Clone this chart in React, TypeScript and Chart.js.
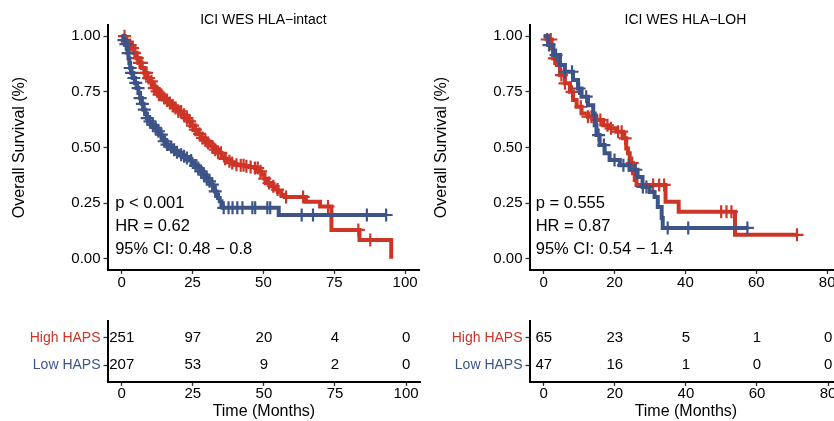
import React, { useEffect, useRef } from "react";
import { Chart, registerables } from "chart.js";

Chart.register(...registerables);

const FONT = '"Liberation Sans", Arial, Helvetica, sans-serif';
const RED = "#CD3527";
const BLUE = "#3C5488";

const groupLabels = ["High HAPS", "Low HAPS"];
const groupColors = [RED, BLUE];
const survTicks = [0, 0.25, 0.5, 0.75, 1];

// ---------- Panel 1: ICI WES HLA-intact ----------
const intactTitle = "ICI WES HLA\u2212intact";
const intactTimeTicks = [0, 25, 50, 75, 100];
const intactHighTime = [0, 1.2, 2.4, 3.6, 4.5, 5.3, 6.2, 7.1, 8.0, 8.9, 9.8, 10.6, 11.5, 12.4, 13.2, 14.1, 15.3, 16.5, 17.6, 18.8, 20.0, 21.2, 22.3, 23.5, 24.6, 25.8, 27.0, 28.2, 29.3, 30.5, 31.7, 32.9, 34.0, 35.2, 36.4, 37.6, 38.7, 39.9, 41.6, 43.4, 45.2, 47.0, 48.1, 49.3, 50.4, 51.6, 52.8, 54.0, 55.1, 56.3, 57.5, 65.0, 70.0, 74.0, 83.9, 95.1];
const intactHighSurv = [1, 0.975, 0.96, 0.946, 0.925, 0.901, 0.88, 0.857, 0.835, 0.812, 0.797, 0.782, 0.767, 0.752, 0.737, 0.722, 0.711, 0.7, 0.689, 0.677, 0.662, 0.647, 0.632, 0.617, 0.598, 0.58, 0.561, 0.543, 0.531, 0.52, 0.505, 0.49, 0.476, 0.461, 0.449, 0.438, 0.43, 0.423, 0.42, 0.416, 0.412, 0.408, 0.393, 0.378, 0.36, 0.341, 0.326, 0.311, 0.3, 0.288, 0.278, 0.256, 0.235, 0.13, 0.085, 0.0];
const intactHighCensor = [1, 2, 3, 3.8, 4.5, 5.5, 6.3, 7, 8, 8.8, 9.5, 10.5, 11.5, 12.5, 13.2, 14, 15, 16, 17, 18, 19, 20, 21, 22, 23, 24, 25, 26, 27.5, 28.5, 29.5, 30.5, 32, 33, 34, 35, 36.5, 38, 39, 40.5, 42, 43, 44, 45.5, 47, 48, 49, 50.5, 52, 53.5, 55, 58, 64, 72.8, 83.5, 87.7];
const intactLowTime = [0, 0.6, 1.2, 1.8, 2.1, 2.4, 2.7, 3.0, 3.5, 4.1, 4.7, 5.3, 5.9, 6.5, 7.1, 7.7, 8.3, 8.9, 9.7, 10.6, 11.5, 12.4, 13.2, 14.1, 15.0, 15.9, 16.8, 17.7, 18.8, 20.0, 21.1, 22.3, 23.5, 24.7, 25.8, 27.0, 27.9, 28.8, 29.6, 30.5, 31.4, 32.3, 32.9, 33.5, 34.0, 34.6, 35.2, 35.6, 55.4, 93.5];
const intactLowSurv = [1, 0.982, 0.964, 0.946, 0.924, 0.901, 0.879, 0.857, 0.835, 0.812, 0.79, 0.767, 0.745, 0.722, 0.696, 0.67, 0.651, 0.632, 0.617, 0.602, 0.588, 0.573, 0.558, 0.543, 0.528, 0.513, 0.502, 0.49, 0.479, 0.468, 0.461, 0.453, 0.442, 0.43, 0.419, 0.408, 0.393, 0.378, 0.363, 0.348, 0.333, 0.318, 0.303, 0.288, 0.273, 0.259, 0.236, 0.229, 0.197, 0.197];
const intactLowCensor = [0.8, 1.5, 2.3, 3, 3.5, 4.3, 5, 5.8, 6.5, 7.3, 8, 9, 10, 11, 12, 13, 14, 15, 16, 17.5, 18.5, 19.5, 21, 22, 23, 24.5, 26, 27, 28, 29, 30, 31, 32, 33, 36, 37.7, 39.1, 40.8, 42.6, 46.1, 47.1, 51.4, 52.4, 63.5, 67.5, 86.5, 93.3];
const intactStats = ["p < 0.001", "HR = 0.62", "95% CI: 0.48 \u2212 0.8"];
const intactRiskHigh = [251, 97, 20, 4, 0];
const intactRiskLow = [207, 53, 9, 2, 0];

// ---------- Panel 2: ICI WES HLA-LOH ----------
const lohTitle = "ICI WES HLA\u2212LOH";
const lohTimeTicks = [0, 20, 40, 60, 80];
const lohHighTime = [0, 1.0, 2.25, 2.7, 3.7, 4.6, 6.0, 7.4, 8.3, 9.3, 10.7, 12.5, 14.9, 16.8, 18.6, 20.5, 22.4, 23.3, 23.8, 24.3, 25.2, 25.7, 26.2, 34.4, 38.1, 54.0, 71.5];
const lohHighSurv = [1, 0.985, 0.945, 0.9, 0.87, 0.825, 0.788, 0.75, 0.713, 0.683, 0.653, 0.638, 0.623, 0.6, 0.586, 0.571, 0.541, 0.496, 0.474, 0.43, 0.384, 0.354, 0.332, 0.256, 0.212, 0.108, 0.108];
const lohHighCensor = [1, 2, 3, 5, 6, 8, 10.5, 12.5, 13.5, 15, 16, 18, 19, 21, 22, 23, 25, 30.9, 32.6, 34, 50.1, 51.6, 53, 71.5];
const lohLowTime = [0, 1.3, 2.7, 4.6, 6.0, 8.3, 9.7, 10.7, 12.5, 14.0, 14.4, 14.9, 15.8, 17.2, 18.6, 21.5, 24.3, 26.5, 27.9, 29.9, 31.3, 32.2, 33.3, 33.6, 57.8];
const lohLowSurv = [1, 0.96, 0.915, 0.87, 0.84, 0.803, 0.765, 0.728, 0.69, 0.653, 0.6, 0.556, 0.511, 0.474, 0.444, 0.42, 0.4, 0.368, 0.323, 0.3, 0.278, 0.233, 0.184, 0.139, 0.139];
const lohLowCensor = [1.5, 3.5, 6, 8, 10, 12, 15.5, 17, 20, 22.5, 24, 26, 28, 29, 35, 40.8, 57.5];
const lohStats = ["p = 0.555", "HR = 0.87", "95% CI: 0.54 \u2212 1.4"];
const lohRiskHigh = [65, 23, 5, 1, 0];
const lohRiskLow = [47, 16, 1, 0, 0];

const statRows = [0.25, 0.147, 0.044];

type Panel = {
  title: string;
  xMin: number;
  xMax: number;
  ticks: number[];
  highTime: number[];
  highSurv: number[];
  highCensor: number[];
  lowTime: number[];
  lowSurv: number[];
  lowCensor: number[];
  stats: string[];
  statX: number;
  riskHigh: number[];
  riskLow: number[];
};

const panels: Panel[] = [
  {
    title: intactTitle, xMin: -5, xMax: 105, ticks: intactTimeTicks,
    highTime: intactHighTime, highSurv: intactHighSurv, highCensor: intactHighCensor,
    lowTime: intactLowTime, lowSurv: intactLowSurv, lowCensor: intactLowCensor,
    stats: intactStats, statX: -2.3, riskHigh: intactRiskHigh, riskLow: intactRiskLow,
  },
  {
    title: lohTitle, xMin: -4, xMax: 84, ticks: lohTimeTicks,
    highTime: lohHighTime, highSurv: lohHighSurv, highCensor: lohHighCensor,
    lowTime: lohLowTime, lowSurv: lohLowSurv, lowCensor: lohLowCensor,
    stats: lohStats, statX: -2.25, riskHigh: lohRiskHigh, riskLow: lohRiskLow,
  },
];

function survAt(times: number[], surv: number[], t: number) {
  let s = surv[0];
  for (let i = 0; i < times.length; i++) {
    if (times[i] <= t) s = surv[i];
    else break;
  }
  return s;
}

const axisBorder = { display: true, color: "#000", width: 2 };
const axisGrid = { display: true, drawOnChartArea: false, drawTicks: true, tickLength: 4, tickColor: "#333", tickWidth: 1.3 };

function kmConfig(p: Panel): any {
  const curve = (time: number[], surv: number[]) => time.map((t, i) => ({ x: t, y: surv[i] }));
  const cens = (time: number[], surv: number[], c: number[]) => c.map((t) => ({ x: t, y: survAt(time, surv, t) }));
  const lineDs = (data: any[], color: string, order: number) => ({
    data, borderColor: color, borderWidth: 4, stepped: "before", pointRadius: 0, fill: false, order,
  });
  const censDs = (data: any[], color: string, order: number) => ({
    data, showLine: false, pointStyle: "cross", pointRadius: 6.5, pointBorderWidth: 2.2,
    pointBorderColor: color, borderColor: color, backgroundColor: color, order,
  });
  const statsPlugin = {
    id: "stats",
    afterDatasetsDraw(chart: any) {
      const { ctx, scales } = chart;
      ctx.save();
      ctx.font = `16.5px ${FONT}`;
      ctx.fillStyle = "#000";
      ctx.textAlign = "left";
      ctx.textBaseline = "middle";
      p.stats.forEach((s, i) => {
        ctx.fillText(s, scales.x.getPixelForValue(p.statX), scales.y.getPixelForValue(statRows[i]));
      });
      ctx.restore();
    },
  };
  return {
    type: "line",
    data: {
      datasets: [
        lineDs(curve(p.highTime, p.highSurv), RED, 4),
        censDs(cens(p.highTime, p.highSurv, p.highCensor), RED, 3),
        lineDs(curve(p.lowTime, p.lowSurv), BLUE, 2),
        censDs(cens(p.lowTime, p.lowSurv, p.lowCensor), BLUE, 1),
      ],
    },
    options: {
      animation: false,
      responsive: false,
      devicePixelRatio: 1,
      layout: { padding: { left: 0, right: 0, top: 0, bottom: 0.5 } },
      plugins: {
        legend: { display: false },
        tooltip: { enabled: false },
        title: {
          display: true, text: p.title, fullSize: false, color: "#000",
          font: { family: FONT, size: 14, weight: "normal", lineHeight: 0.7 },
          padding: { top: 15.1, bottom: 0.1 },
        },
      },
      scales: {
        x: {
          type: "linear", min: p.xMin, max: p.xMax,
          afterBuildTicks: (s: any) => { s.ticks = p.ticks.map((v) => ({ value: v })); },
          afterFit: (s: any) => { s.height = 20.5; },
          border: axisBorder, grid: axisGrid,
          ticks: { color: "#000", font: { family: FONT, size: 15, lineHeight: 1 }, padding: 1, maxRotation: 0, autoSkip: false },
        },
        y: {
          type: "linear", min: -0.05, max: 1.05,
          afterBuildTicks: (s: any) => { s.ticks = survTicks.map((v) => ({ value: v })); },
          afterFit: (s: any) => { s.width = 107.5; },
          border: axisBorder, grid: axisGrid,
          ticks: { color: "#000", font: { family: FONT, size: 15, lineHeight: 1 }, padding: 3, callback: (v: any) => Number(v).toFixed(2) },
          title: { display: true, text: "Overall Survival (%)", color: "#000", font: { family: FONT, size: 16, lineHeight: 1.2 }, padding: { top: 10.4, bottom: 0 } },
        },
      },
    },
    plugins: [statsPlugin],
  };
}

function riskConfig(p: Panel): any {
  const rows = [p.riskHigh, p.riskLow];
  const riskPlugin = {
    id: "riskNumbers",
    afterDatasetsDraw(chart: any) {
      const { ctx } = chart;
      ctx.save();
      ctx.font = `15px ${FONT}`;
      ctx.fillStyle = "#000";
      ctx.textAlign = "center";
      ctx.textBaseline = "middle";
      rows.forEach((counts, di) => {
        const meta = chart.getDatasetMeta(di);
        meta.data.forEach((el: any, i: number) => {
          ctx.fillText(String(counts[i]), el.x, el.y);
        });
      });
      ctx.restore();
    },
  };
  return {
    type: "scatter",
    data: {
      datasets: rows.map((counts, r) => ({
        data: counts.map((_, i) => ({ x: p.ticks[i], y: r })),
        pointRadius: 0,
      })),
    },
    options: {
      animation: false,
      responsive: false,
      devicePixelRatio: 1,
      layout: { padding: { left: 0, right: 3.7, top: 21, bottom: 0 } },
      plugins: { legend: { display: false }, tooltip: { enabled: false } },
      scales: {
        x: {
          type: "linear", min: p.xMin, max: p.xMax,
          afterBuildTicks: (s: any) => { s.ticks = p.ticks.map((v) => ({ value: v })); },
          afterFit: (s: any) => { s.height = 39; },
          border: axisBorder, grid: axisGrid,
          ticks: { color: "#000", font: { family: FONT, size: 15, lineHeight: 1 }, padding: 0.5, maxRotation: 0, autoSkip: false },
          title: { display: true, text: "Time (Months)", color: "#000", font: { family: FONT, size: 16, lineHeight: 1 }, padding: { top: 0, bottom: 1.3 } },
        },
        y: {
          type: "linear", reverse: true, min: -0.61, max: 1.62,
          afterBuildTicks: (s: any) => { s.ticks = groupLabels.map((_, i) => ({ value: i })); },
          afterFit: (s: any) => { s.width = 107.5; },
          border: axisBorder, grid: axisGrid,
          ticks: {
            font: { family: FONT, size: 14, lineHeight: 1 }, padding: 3,
            color: (c: any) => groupColors[c.index] || "#000",
            callback: (v: any) => groupLabels[Math.round(Number(v))] ?? "",
          },
        },
      },
    },
    plugins: [riskPlugin],
  };
}

function ChartBox(props: { left: number; top: number; width: number; height: number; make: () => any }) {
  const ref = useRef<HTMLCanvasElement | null>(null);
  useEffect(() => {
    if (!ref.current) return;
    const chart = new Chart(ref.current, props.make());
    return () => chart.destroy();
  }, []);
  return (
    <canvas
      ref={ref}
      width={props.width}
      height={props.height}
      style={{ position: "absolute", left: props.left, top: props.top, width: props.width, height: props.height, display: "block" }}
    />
  );
}

export default function App() {
  return (
    <div style={{ position: "absolute", left: 0, top: 0, width: 834, height: 421, overflow: "hidden", background: "#fff" }}>
      <ChartBox left={0} top={0} width={428} height={291} make={() => kmConfig(panels[0])} />
      <ChartBox left={422} top={0} width={428} height={291} make={() => kmConfig(panels[1])} />
      <ChartBox left={0} top={300} width={424} height={121} make={() => riskConfig(panels[0])} />
      <ChartBox left={422} top={300} width={424} height={121} make={() => riskConfig(panels[1])} />
    </div>
  );
}
